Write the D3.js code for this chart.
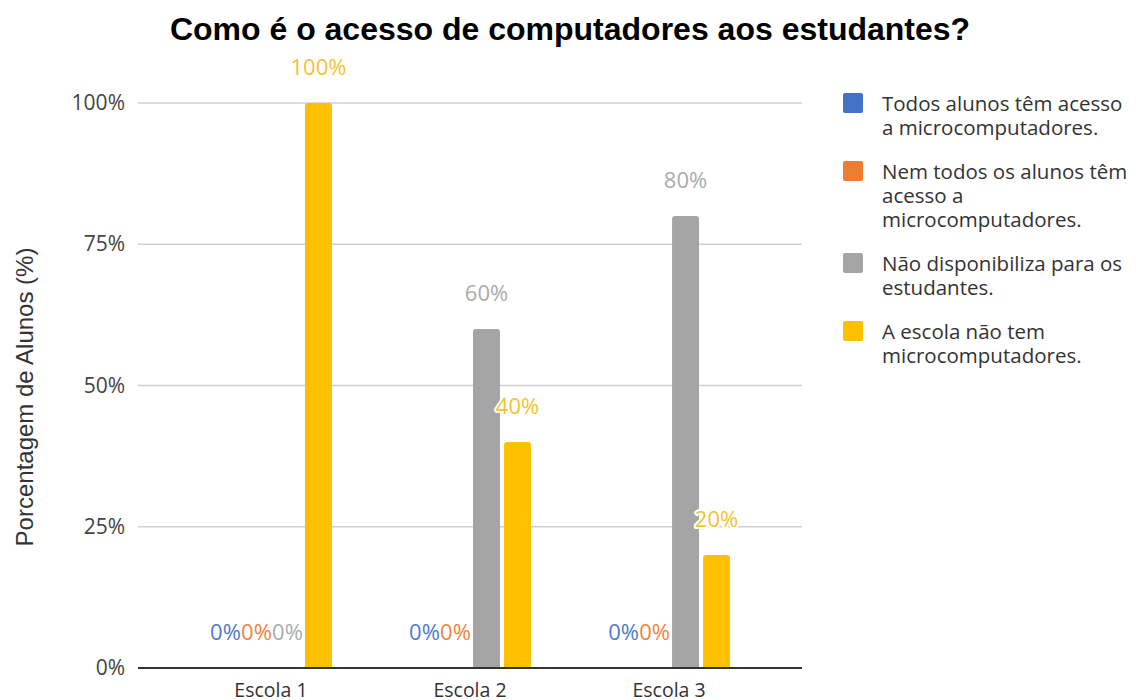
<!DOCTYPE html>
<html><head><meta charset="utf-8">
<script src="https://cdn.jsdelivr.net/npm/d3@7"></script>
<style>body{margin:0;background:#fff}svg{display:block}</style>
</head><body>
<svg id="c" width="1136" height="700"></svg>
<script>
const categories = ["Escola 1", "Escola 2", "Escola 3"];
const seriesNames = [
  "Todos alunos têm acesso a microcomputadores.",
  "Nem todos os alunos têm acesso a microcomputadores.",
  "Não disponibiliza para os estudantes.",
  "A escola não tem microcomputadores."
];
const legendLines = [
  ["Todos alunos têm acesso", "a microcomputadores."],
  ["Nem todos os alunos têm", "acesso a", "microcomputadores."],
  ["Não disponibiliza para os", "estudantes."],
  ["A escola não tem", "microcomputadores."]
];
const todos = [0, 0, 0];
const nemTodos = [0, 0, 0];
const naoDisponibiliza = [0, 60, 80];
const semComputadores = [100, 40, 20];
const seriesValues = [todos, nemTodos, naoDisponibiliza, semComputadores];
const colors = ["#4472C4", "#ED7D31", "#A5A5A5", "#FFC000"];
const labelColors = ["#4F7BC8", "#EE8440", "#ABABAB", "#F4C232"];
const yTicks = [0, 25, 50, 75, 100];

const svg = d3.select("#c");
const mLeft = 138, mRight = 802, mTop = 103, mBottom = 668;

const x = d3.scaleBand().domain(categories).range([mLeft, mRight]).paddingInner(0).paddingOuter(0.168);
const inner = d3.scaleBand().domain(d3.range(4)).range([-61, 63]).paddingInner(0.13).paddingOuter(0.065);
const y = d3.scaleLinear().domain([0, 100]).range([mBottom, mTop]);

// gridlines
svg.append("g").selectAll("line").data(yTicks.filter(d => d > 0)).join("line")
  .attr("x1", mLeft).attr("x2", mRight)
  .attr("y1", d => y(d)).attr("y2", d => y(d))
  .attr("stroke", "#cfcfcf").attr("stroke-width", 1.5);

// y axis labels
const yAxis = d3.axisLeft(y).tickValues(yTicks).tickFormat(d => d + "%").tickSize(0).tickPadding(13);
const ga = svg.append("g").attr("transform", `translate(${mLeft},0)`).call(yAxis);
ga.select(".domain").remove();
ga.selectAll("text").attr("font-family", "'Open Sans', sans-serif").attr("font-size", 21).attr("fill", "#444");

// bars
const data = [];
categories.forEach((c, ci) => seriesValues.forEach((s, si) => data.push({c, si, v: s[ci]})));

function barPath(d) {
  const x0 = x(d.c) + x.bandwidth() / 2 + inner(d.si);
  const w = inner.bandwidth();
  const y0 = y(d.v), y1 = y(0);
  const r = Math.min(3, (y1 - y0) / 2);
  return `M${x0},${y1}V${y0 + r}Q${x0},${y0} ${x0 + r},${y0}H${x0 + w - r}Q${x0 + w},${y0} ${x0 + w},${y0 + r}V${y1}Z`;
}
svg.append("g").selectAll("path").data(data.filter(d => d.v > 0)).join("path")
  .attr("d", barPath).attr("fill", d => colors[d.si]);

// x axis baseline
svg.append("line").attr("x1", mLeft).attr("x2", mRight).attr("y1", y(0)).attr("y2", y(0))
  .attr("stroke", "#333").attr("stroke-width", 2);

// x axis labels
const xAxis = d3.axisBottom(x).tickSize(0).tickPadding(15);
const gx = svg.append("g").attr("transform", `translate(0,${mBottom})`).call(xAxis);
gx.select(".domain").remove();
gx.selectAll("text").attr("font-family", "'Open Sans', sans-serif").attr("font-size", 19.5).attr("fill", "#333");

// value labels (zero gray labels only shown where the reference shows them)
const labelData = data.filter(d => !(d.si === 2 && d.v === 0 && d.c !== "Escola 1"));
svg.append("g").selectAll("text").data(labelData).join("text")
  .attr("x", d => x(d.c) + x.bandwidth() / 2 + inner(d.si) + inner.bandwidth() / 2)
  .attr("y", d => y(d.v) - 28)
  .attr("text-anchor", "middle")
  .attr("font-family", "'Open Sans', sans-serif").attr("font-size", 22)
  .attr("fill", d => labelColors[d.si])
  .attr("stroke", d => (d.si === 3 && d.v < 100) ? "#fff" : "none")
  .attr("stroke-width", 4).attr("paint-order", "stroke").attr("stroke-linejoin", "round")
  .text(d => d.v + "%");

// title
svg.append("text").attr("x", 570).attr("y", 40).attr("text-anchor", "middle")
  .attr("font-family", "'Liberation Sans', Arial, sans-serif").attr("font-weight", "bold")
  .attr("font-size", 32).attr("fill", "#000")
  .text("Como é o acesso de computadores aos estudantes?");

// y title
svg.append("text").attr("transform", "translate(33,397) rotate(-90)").attr("text-anchor", "middle")
  .attr("font-family", "'Liberation Sans', Arial, sans-serif").attr("font-size", 24).attr("fill", "#333")
  .text("Porcentagem de Alunos (%)");

// legend
const legendTops = [93, 161, 253, 321];
const lg = svg.append("g");
seriesNames.forEach((name, i) => {
  lg.append("rect").attr("x", 843).attr("y", legendTops[i]).attr("width", 20).attr("height", 20)
    .attr("rx", 2).attr("fill", colors[i]);
  const t = lg.append("text").attr("font-family", "'Open Sans', sans-serif").attr("font-size", 20.5).attr("fill", "#333");
  legendLines[i].forEach((ln, j) => {
    t.append("tspan").attr("x", 882).attr("y", legendTops[i] + 18 + j * 24).text(ln);
  });
});
</script>
</body></html>
